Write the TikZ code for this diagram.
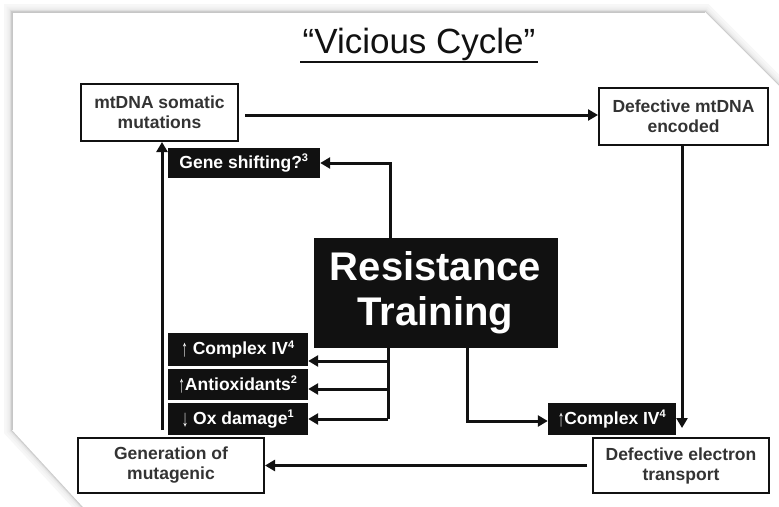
\documentclass[tikz,border=0pt]{standalone}
\usepackage{fontspec}
\setmainfont{Liberation Sans}
\usetikzlibrary{arrows.meta}
\definecolor{txt}{HTML}{333333}
\definecolor{blk}{HTML}{111111}
\newcommand{\upar}{\raisebox{-2pt}{\scalebox{0.75}[1.35]{↑}}}
\newcommand{\dnar}{\raisebox{-2pt}{\scalebox{0.75}[1.35]{↓}}}
\newcommand{\sups}[1]{\textsuperscript{\fontsize{11}{11}\selectfont #1}}
\begin{document}
\begin{tikzpicture}[x=1pt,y=-1pt,
  wbox/.style={draw=blk,line width=2pt,fill=white,text=txt,font=\bfseries\fontsize{17.5}{20}\selectfont,align=center,inner sep=0pt},
  bbox/.style={fill=blk,text=white,font=\bfseries\fontsize{17.5}{19}\selectfont,inner sep=0pt},
  arr/.style={draw=blk,line width=3pt,-{Triangle[length=10pt,width=11pt]}},
  ln/.style={draw=blk,line width=3pt}]
\useasboundingbox (0,0) rectangle (779,506);
\fill[white] (0,0) rectangle (779,506);
% page shadow
\foreach \w/\c in {16/gray!6,11/gray!10,7/gray!16,4/gray!26,2/gray!40}{
  \draw[line width=\w pt,color=\c,line join=miter] (12,12) -- (705,12) -- (785,92) -- (785,520) -- (95,520) -- (12,430) -- cycle;}
\fill[white] (12,12) -- (705,12) -- (785,92) -- (785,520) -- (95,520) -- (12,430) -- cycle;
\draw[gray!45,line width=1pt] (12,430) -- (12,12) -- (705,12);
% title
\node[text=blk,font=\fontsize{35}{40}\selectfont] (title) at (419,44) {“Vicious Cycle”};
\draw[blk,line width=2.2pt] (300,62) -- (538,62);
% boxes
\node[wbox,minimum width=157,minimum height=57] (mt) at (159.5,112.5) {mtDNA somatic\\mutations};
\node[wbox,minimum width=169,minimum height=57] (def) at (683.5,116.5) {Defective mtDNA\\encoded};
\node[wbox,minimum width=186,minimum height=55] (gen) at (171,465.5) {Generation of\\mutagenic};
\node[wbox,minimum width=176,minimum height=55] (det) at (681,465.5) {Defective electron\\transport};
\node[bbox,minimum width=152,minimum height=30] (gene) at (244,163) {Gene shifting?\sups{3}};
\node[fill=blk,text=white,font=\bfseries\fontsize{40}{45}\selectfont,align=center,minimum width=244,minimum height=110,inner sep=0pt] (rt) at (435.5,293) {Resistance\\Training};
\node[bbox,minimum width=140,minimum height=33] (civ) at (238,349.5) {\upar\ Complex IV\sups{4}};
\node[bbox,minimum width=140,minimum height=31] (anti) at (238,384.5) {\upar Antioxidants\sups{2}};
\node[bbox,minimum width=140,minimum height=32] (ox) at (238,419) {\dnar\ Ox damage\sups{1}};
\node[bbox,minimum width=128,minimum height=32] (civr) at (612,419) {\upar Complex IV\sups{4}};
% connectors
\coordinate (a1) at (245,115);
\draw[arr] (a1) -- (a1 -| def.west);
\coordinate (lv) at (162,430);
\draw[arr] (lv) -- (lv |- mt.south);
\coordinate (rtg) at (390,0);
\draw[arr] (rtg |- rt.north) |- (gene.east);
\coordinate (rtb) at (388,419);
\draw[ln] (rtb |- rt.south) -- (rtb);
\coordinate (b1) at (388,361);
\coordinate (b2) at (388,389);
\draw[arr] (b1) -- (b1 -| civ.east);
\draw[arr] (b2) -- (b2 -| anti.east);
\draw[arr] (rtb) -- (rtb -| ox.east);
\coordinate (rtr) at (467,421);
\draw[arr] (rtr |- rt.south) -- (rtr) -- (rtr -| civr.west);
\coordinate (rv) at (682,428);
\draw[arr] (rv |- def.south) -- (rv);
\coordinate (bt) at (587,465.5);
\draw[arr] (bt) -- (bt -| gen.east);
\end{tikzpicture}
\end{document}
